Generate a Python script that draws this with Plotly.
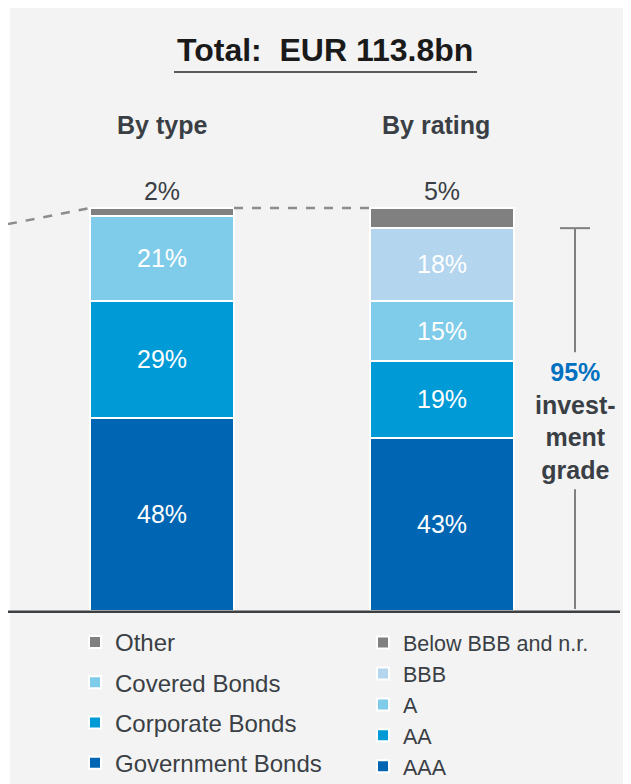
import plotly.graph_objects as go

# --- data -------------------------------------------------------------------
groups = ["By type", "By rating"]

type_labels = ["Government Bonds", "Corporate Bonds", "Covered Bonds", "Other"]
type_values = [48, 29, 21, 2]

rating_labels = ["AAA", "AA", "A", "BBB", "Below BBB and n.r."]
rating_values = [43, 19, 15, 18, 5]

total_text = "Total:\u00a0 EUR 113.8bn"

# --- style ------------------------------------------------------------------
OFF = 8                               # page body margin of the html wrapper
W, H = 631 - OFF, 784 - OFF
BASE_PX, PX_PER = 611, 4.03           # baseline pixel (page), pixels per percent point
X0_PX, STEP_PX = 162, 280             # first bar centre (page), distance between bars
BAR_W = 144 / STEP_PX

TEXT = "#3a3f45"
GREY = "#808080"
BLUE_DARK = "#0066b3"
BLUE_MID = "#009bd6"
BLUE_LIGHT = "#7fcbea"
BLUE_PALE = "#b3d5ee"

TYPE_COLORS = [BLUE_DARK, BLUE_MID, BLUE_LIGHT, GREY]
RATING_COLORS = [BLUE_DARK, BLUE_MID, BLUE_LIGHT, BLUE_PALE, GREY]

FONT = "Liberation Sans, Arial, sans-serif"


def fx(px):
    """page pixel -> paper x"""
    return (px - OFF) / W


def fy(py):
    """page pixel -> paper y"""
    return 1 - (py - OFF) / H


def add_stack(fig, group, labels, values, colors, legend, grouped):
    last = len(values) - 1
    for i, (lab, val, col) in enumerate(zip(labels, values, colors)):
        fig.add_trace(
            go.Bar(
                x=[group],
                y=[val],
                name=lab,
                width=[BAR_W],
                marker=dict(color=col, line=dict(color="white", width=2)),
                text=[f"{val}%"],
                textposition="outside" if i == last else "inside",
                insidetextanchor="middle",
                textangle=0,
                constraintext="none",
                insidetextfont=dict(color="white", size=25),
                outsidetextfont=dict(color=TEXT, size=25),
                cliponaxis=False,
                legend=legend,
                legendgroup=f"{legend}-{i}" if grouped else None,
                legendrank=1000 - i,
                hoverinfo="skip",
            )
        )


fig = go.Figure()
add_stack(fig, groups[0], type_labels, type_values, TYPE_COLORS, "legend", True)
add_stack(fig, groups[1], rating_labels, rating_values, RATING_COLORS, "legend2", False)

type_total = sum(type_values)
rating_total = sum(rating_values)
ig_share = sum(rating_values[:4])

# axis ranges so that the data sit where the original slide puts them
base = BASE_PX - OFF
x0 = X0_PX - OFF
y_range = [-(H - base) / PX_PER, base / PX_PER]
x_range = [-x0 / STEP_PX, (W - x0) / STEP_PX]

half = BAR_W / 2
bracket_x = (575 - X0_PX) / STEP_PX
tick = 15 / STEP_PX
gap = 17
mid = ig_share / 2 - 0.3            # centre of the bracket label

shapes = [
    # grey slide panel
    dict(type="rect", xref="paper", yref="paper", x0=fx(10), x1=1, y0=0, y1=fy(8),
         fillcolor="#f3f3f3", line=dict(width=0), layer="below"),
    # baseline
    dict(type="line", xref="paper", yref="y", x0=0, x1=fx(620), y0=-0.2, y1=-0.2,
         line=dict(color="#3c4043", width=2.5)),
    # dashed connectors
    dict(type="line", xref="paper", yref="y", x0=0, x1=fx(X0_PX - 72),
         y0=type_total - 4, y1=type_total, line=dict(color="#8c8c8c", width=2.5, dash="dash")),
    dict(type="line", xref="x", yref="y", x0=half, x1=1 - half,
         y0=type_total, y1=rating_total, line=dict(color="#8c8c8c", width=2.5, dash="dash")),
    # investment grade bracket
    dict(type="line", xref="x", yref="y", x0=bracket_x - tick, x1=bracket_x + tick,
         y0=ig_share, y1=ig_share, line=dict(color=GREY, width=2)),
    dict(type="line", xref="x", yref="y", x0=bracket_x, x1=bracket_x,
         y0=ig_share, y1=mid + gap, line=dict(color=GREY, width=2)),
    dict(type="line", xref="x", yref="y", x0=bracket_x, x1=bracket_x,
         y0=mid - gap, y1=0.5, line=dict(color=GREY, width=2)),
    # title underline
    dict(type="line", xref="paper", yref="paper", x0=fx(174), x1=fx(477),
         y0=fy(72), y1=fy(72), line=dict(color="#5a5a5a", width=2)),
]

annotations = [
    dict(text=f"<b>{total_text}</b>", xref="paper", yref="paper", x=fx(325), y=fy(50),
         xanchor="center", yanchor="middle", showarrow=False,
         font=dict(size=32, color="#1a1a1a")),
    dict(text=f"<b>{groups[0]}</b>", xref="x", yref="y", x=0, y=(BASE_PX - 125) / PX_PER,
         showarrow=False, font=dict(size=25, color=TEXT)),
    dict(text=f"<b>{groups[1]}</b>", xref="x", yref="y", x=1, y=(BASE_PX - 125) / PX_PER,
         xshift=-6, showarrow=False, font=dict(size=25, color=TEXT)),
    dict(text=f"<b><span style='color:#0070c0'>{ig_share}%</span><br>invest-<br>ment<br>grade</b>",
         xref="x", yref="y", x=bracket_x, y=mid, showarrow=False,
         font=dict(size=25, color=TEXT)),
]

fig.update_layout(
    width=W,
    height=H,
    margin=dict(l=0, r=0, t=0, b=0, autoexpand=False),
    paper_bgcolor="white",
    plot_bgcolor="rgba(0,0,0,0)",
    barmode="stack",
    font=dict(family=FONT, color=TEXT),
    xaxis=dict(type="category", categoryorder="array", categoryarray=groups,
               range=x_range, visible=False, fixedrange=True),
    yaxis=dict(range=y_range, visible=False, fixedrange=True),
    shapes=shapes,
    annotations=annotations,
    legend=dict(x=fx(75), y=fy(620), xanchor="left", yanchor="top",
                font=dict(size=24, color=TEXT), traceorder="grouped",
                tracegroupgap=6, bgcolor="rgba(0,0,0,0)"),
    legend2=dict(x=fx(363), y=fy(622), xanchor="left", yanchor="top",
                 font=dict(size=21.5, color=TEXT), traceorder="normal",
                 bgcolor="rgba(0,0,0,0)"),
)

fig.write_html("out.html")
